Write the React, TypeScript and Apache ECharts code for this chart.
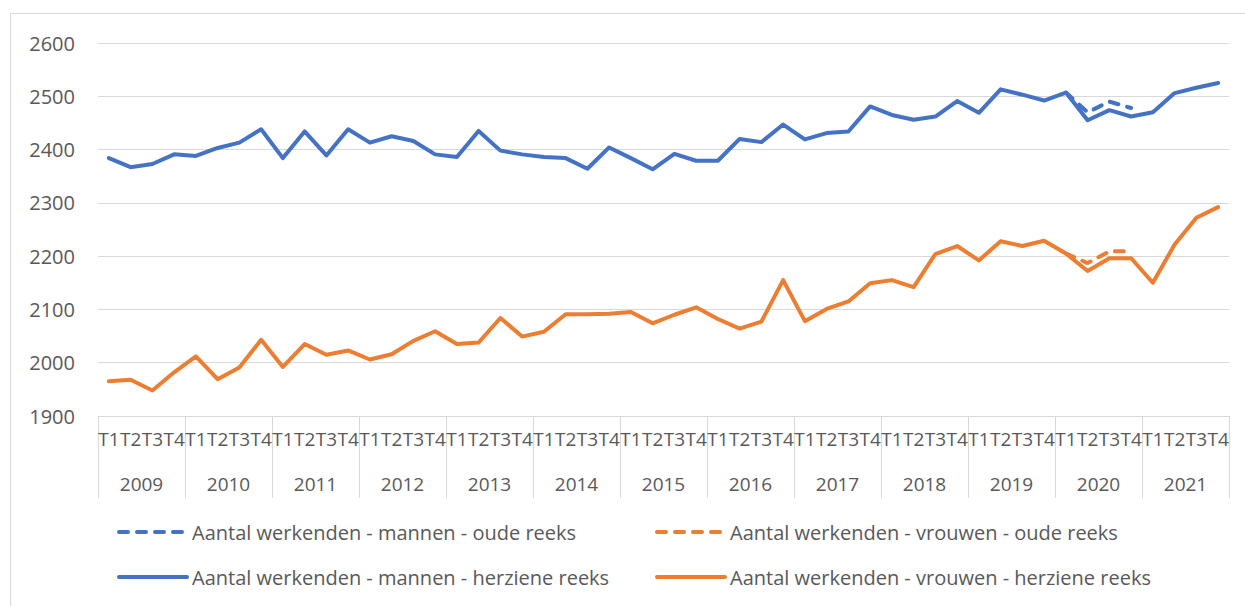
import React, { useEffect, useRef } from "react";
import * as echarts from "echarts";

const years = ["2009", "2010", "2011", "2012", "2013", "2014", "2015", "2016", "2017", "2018", "2019", "2020", "2021"];
const quarterNames = ["T1", "T2", "T3", "T4"];
const yTicks = { min: 1900, max: 2600, interval: 100 };

const mannenHerzien = [
  2384, 2367, 2373, 2391,
  2388, 2403, 2413, 2438,
  2384, 2434, 2389, 2438,
  2413, 2425, 2416, 2391,
  2386, 2435, 2398, 2391,
  2386, 2384, 2364, 2404,
  2384, 2363, 2392, 2379,
  2379, 2420, 2414, 2447,
  2419, 2431, 2434, 2481,
  2465, 2456, 2462, 2491,
  2469, 2513, 2503, 2492,
  2507, 2455, 2474, 2462,
  2470, 2506, 2516, 2525,
];

const vrouwenHerzien = [
  1965, 1968, 1948, 1982,
  2012, 1969, 1991, 2043,
  1992, 2035, 2015, 2023,
  2006, 2016, 2041, 2059,
  2035, 2038, 2084, 2049,
  2058, 2091, 2091, 2092,
  2095, 2074, 2090, 2104,
  2082, 2064, 2077, 2155,
  2078, 2101, 2115, 2149,
  2155, 2142, 2204, 2219,
  2192, 2228, 2219, 2229,
  2205, 2172, 2196, 2196,
  2150, 2222, 2272, 2292,
];

// old series: 2019 T4 .. 2020 T4
const oudeStartIndex = 44;
const mannenOud = [2507, 2470, 2490, 2478];
const vrouwenOud = [2205, 2187, 2209, 2209];

const names = {
  mOud: "Aantal werkenden - mannen - oude reeks",
  vOud: "Aantal werkenden - vrouwen - oude reeks",
  mNew: "Aantal werkenden - mannen - herziene reeks",
  vNew: "Aantal werkenden - vrouwen - herziene reeks",
};

const BLUE = "#4472C4";
const ORANGE = "#ED7D31";
const GRID = "#D9D9D9";
const TEXT = "#595959";
const FONT = "Open Sans";
const DASH = [9, 9];

export default function App() {
  const ref = useRef<HTMLDivElement>(null);

  useEffect(() => {
    if (!ref.current) return;
    const chart = echarts.init(ref.current, undefined, { renderer: "svg" });

    const quarters: string[] = [];
    years.forEach(() => quarterNames.forEach((q) => quarters.push(q)));
    const pad = (vals: number[]) => {
      const arr: (number | null)[] = quarters.map(() => null);
      vals.forEach((v, i) => (arr[oudeStartIndex + i] = v));
      return arr;
    };

    const legendBase = (name: string, left: number, top: number, dashed: boolean) => ({
      data: [name],
      left,
      top,
      padding: 0,
      itemWidth: 68,
      itemHeight: 14,
      selectedMode: false,
      textStyle: { fontFamily: FONT, fontSize: 20, color: TEXT },
      itemStyle: { opacity: 0 },
      lineStyle: { width: 4, type: dashed ? DASH : "solid", cap: "round", opacity: 1 },
    });

    chart.setOption({
      animation: false,
      textStyle: { fontFamily: FONT },
      grid: { left: 98, right: 16, top: 43, bottom: 190, containLabel: false },
      graphic: [
        {
          type: "rect",
          shape: { x: 10.5, y: 13.5, width: 1400, height: 800 },
          style: { fill: "none", stroke: GRID, lineWidth: 1 },
          silent: true,
        },
      ],
      legend: [
        legendBase(names.mOud, 117, 522, true),
        legendBase(names.vOud, 655, 522, true),
        legendBase(names.mNew, 117, 567, false),
        legendBase(names.vNew, 655, 567, false),
      ],
      xAxis: [
        {
          type: "category",
          data: quarters,
          boundaryGap: true,
          axisLine: { show: true, lineStyle: { color: GRID, width: 1 } },
          axisTick: { show: false },
          axisLabel: { interval: 0, margin: 13, fontSize: 19, color: TEXT, fontFamily: FONT },
        },
        {
          type: "category",
          data: years,
          position: "bottom",
          boundaryGap: true,
          axisLine: { show: false },
          axisTick: { show: true, interval: 0, length: 82, lineStyle: { color: GRID, width: 1 } },
          axisLabel: { interval: 0, margin: 58, fontSize: 19, color: TEXT, fontFamily: FONT },
        },
      ],
      yAxis: {
        type: "value",
        min: yTicks.min,
        max: yTicks.max,
        interval: yTicks.interval,
        axisLine: { show: false },
        axisTick: { show: false },
        axisLabel: {
          margin: 23,
          fontSize: 20,
          color: TEXT,
          fontFamily: FONT,
          formatter: (v: number) => String(v),
        },
        splitLine: { lineStyle: { color: GRID, width: 1 } },
      },
      series: [
        {
          name: names.mOud,
          type: "line",
          data: pad(mannenOud),
          symbol: "none",
          lineStyle: { color: BLUE, width: 4, type: DASH, cap: "round" },
          itemStyle: { color: BLUE },
        },
        {
          name: names.vOud,
          type: "line",
          data: pad(vrouwenOud),
          symbol: "none",
          lineStyle: { color: ORANGE, width: 4, type: DASH, cap: "round" },
          itemStyle: { color: ORANGE },
        },
        {
          name: names.mNew,
          type: "line",
          data: mannenHerzien,
          symbol: "none",
          lineStyle: { color: BLUE, width: 4, cap: "round", join: "round" },
          itemStyle: { color: BLUE },
        },
        {
          name: names.vNew,
          type: "line",
          data: vrouwenHerzien,
          symbol: "none",
          lineStyle: { color: ORANGE, width: 4, cap: "round", join: "round" },
          itemStyle: { color: ORANGE },
        },
      ],
    });

    return () => chart.dispose();
  }, []);

  return (
    <div
      ref={ref}
      style={{ position: "fixed", left: 0, top: 0, width: 1245, height: 606, background: "#fff" }}
    />
  );
}
